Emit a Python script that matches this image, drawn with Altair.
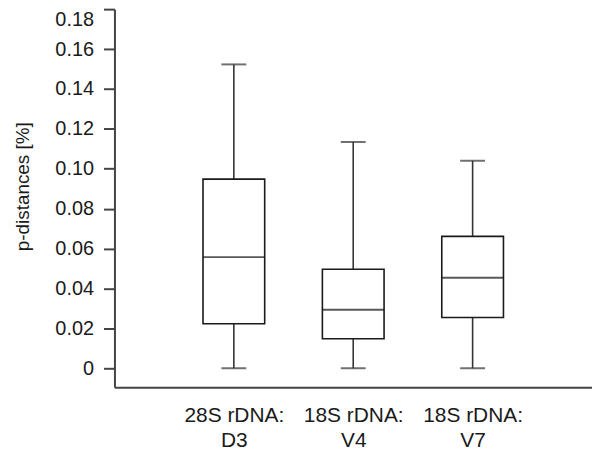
import altair as alt
import pandas as pd

# Data
categories = ["28S rDNA:|D3", "18S rDNA:|V4", "18S rDNA:|V7"]
whisker_low = [0.0, 0.0, 0.0]
q1 = [0.0223, 0.0148, 0.0254]
median = [0.0557, 0.0293, 0.0454]
q3 = [0.0948, 0.0496, 0.0661]
whisker_high = [0.1523, 0.1134, 0.1040]
y_ticks = [0, 0.02, 0.04, 0.06, 0.08, 0.10, 0.12, 0.14, 0.16, 0.18]

df = pd.DataFrame({
    "cat": categories,
    "lo": whisker_low,
    "q1": q1,
    "med": median,
    "q3": q3,
    "hi": whisker_high,
})

FONT = "Liberation Sans"
INK = "#1a1a1a"
AXIS = "#444444"

x_enc = alt.X(
    "cat:N",
    sort=categories,
    scale=alt.Scale(type="point", padding=1),
    axis=alt.Axis(
        title=None,
        labelAngle=0,
        ticks=False,
        grid=False,
        labelExpr="split(datum.label, '|')",
        labelFont=FONT,
        labelFontSize=21,
        labelLineHeight=26,
        labelPadding=17,
        labelColor=INK,
        domainColor=AXIS,
        domainWidth=2,
    ),
)

y_scale = alt.Scale(domain=[-0.0095, 0.18], nice=False, zero=False)
y_axis = alt.Axis(
    values=y_ticks,
    labelExpr="datum.value == 0 ? '0' : format(datum.value, '.2f')",
    grid=False,
    tickSize=11,
    tickWidth=2,
    tickColor=AXIS,
    domainColor=AXIS,
    domainWidth=2,
    labelFont=FONT,
    labelFontSize=20,
    labelColor=INK,
    labelPadding=10,
    labelFlush=True,
    title="p-distances [%]",
    titleFont=FONT,
    titleFontSize=19,
    titleFontWeight="normal",
    titleColor=INK,
    titleX=-86,
    titleY=178,
    titleBaseline="alphabetic",
)

whiskers = alt.Chart(df).mark_rule(color="#333333", strokeWidth=1.6).encode(
    x=x_enc,
    y=alt.Y("lo:Q", scale=y_scale, axis=y_axis),
    y2="hi:Q",
)

boxes = alt.Chart(df).mark_bar(
    size=62, fill="white", stroke=INK, strokeWidth=1.6
).encode(
    x=x_enc,
    y=alt.Y("q1:Q", scale=y_scale),
    y2="q3:Q",
)

medians = alt.Chart(df).mark_tick(size=62, thickness=2, color="#111111").encode(
    x=x_enc,
    y=alt.Y("med:Q", scale=y_scale),
)

caps_low = alt.Chart(df).mark_tick(size=25, thickness=2, color="#333333").encode(
    x=x_enc,
    y=alt.Y("lo:Q", scale=y_scale),
)

caps_high = alt.Chart(df).mark_tick(size=25, thickness=2, color="#333333").encode(
    x=x_enc,
    y=alt.Y("hi:Q", scale=y_scale),
)

chart = alt.layer(whiskers, boxes, medians, caps_low, caps_high).properties(
    width=480,
    height=380,
    autosize=alt.AutoSizeParams(type="none"),
    padding={"left": 107, "top": 0, "right": 0, "bottom": 66},
).configure_view(stroke=None)

chart.save("out.html", embed_options={"renderer": "svg", "actions": False})
